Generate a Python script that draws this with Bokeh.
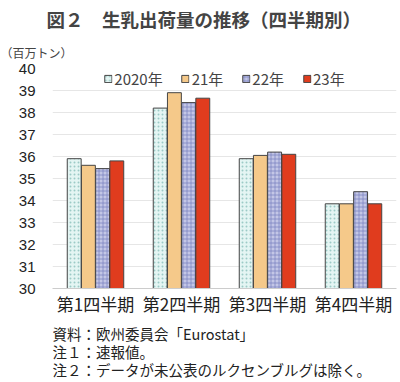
from bokeh.plotting import figure
from bokeh.layouts import column
from bokeh.models import ColumnDataSource, Title, Legend, LegendItem, FactorRange, SingleIntervalTicker
from bokeh.core.properties import value
from bokeh.transform import dodge
from bokeh.embed import file_html
from bokeh.resources import INLINE

quarters = ["第1四半期", "第2四半期", "第3四半期", "第4四半期"]
series_names = ["2020年", "21年", "22年", "23年"]
v2020 = [35.9, 38.2, 35.9, 33.85]
v2021 = [35.6, 38.9, 36.05, 33.85]
v2022 = [35.45, 38.45, 36.2, 34.4]
v2023 = [35.8, 38.65, 36.1, 33.85]
notes = ["資料：欧州委員会「Eurostat」", "注１：速報値。", "注２：データが未公表のルクセンブルグは除く。"]

FONT = "Noto Sans CJK JP"
W, BL, BR = 400, 52, 4

src = ColumnDataSource(dict(q=quarters, a=v2020, b=v2021, c=v2022, d=v2023))

p = figure(width=W, height=320, x_range=FactorRange(*quarters), y_range=(30, 40),
           output_backend="svg", toolbar_location=None,
           min_border_left=BL, min_border_right=BR, min_border_top=0, min_border_bottom=32)
p.outline_line_color = None
p.background_fill_color = "white"

bw = 0.165
styles = [
    dict(col="a", fill="#e4f5f3", hatch="dot", hcol="#9ccac6", off=-1.5),
    dict(col="b", fill="#f5c98a", hatch=None, hcol=None, off=-0.5),
    dict(col="c", fill="#c3c6e6", hatch="cross", hcol="#7d84c2", off=0.5),
    dict(col="d", fill="#e03c1e", hatch=None, hcol=None, off=1.5),
]
renderers = []
for s in styles:
    kw = dict(x=dodge("q", s["off"] * bw, range=p.x_range), top=s["col"], bottom=30,
              width=bw * 0.98, source=src, fill_color=s["fill"],
              line_color="#444444", line_width=1)
    if s["hatch"]:
        kw.update(hatch_pattern=s["hatch"], hatch_color=s["hcol"], hatch_scale=4, hatch_weight=0.8)
    renderers.append(p.vbar(**kw))

legend = Legend(items=[LegendItem(label=n, renderers=[r]) for n, r in zip(series_names, renderers)],
                orientation="horizontal", location="top_center",
                border_line_color=None, background_fill_alpha=0,
                label_text_font=FONT, label_text_font_size="15px", label_height=14,
                glyph_width=9, glyph_height=9, label_standoff=2, spacing=18,
                padding=0, margin=0)
p.add_layout(legend)

p.yaxis.ticker = SingleIntervalTicker(interval=1)
p.yaxis.major_label_text_font = "Liberation Sans"
p.yaxis.major_label_text_font_size = "15px"
p.yaxis.major_label_text_color = "#222222"
p.yaxis.axis_line_color = None
p.yaxis.major_tick_line_color = None
p.yaxis.minor_tick_line_color = None
p.yaxis.major_tick_out = 0
p.yaxis.major_tick_in = 0
p.yaxis.major_label_standoff = 13

p.xaxis.major_label_text_font = FONT
p.xaxis.major_label_text_font_size = "17px"
p.xaxis.major_label_text_color = "#222222"
p.xaxis.axis_line_color = "#cccccc"
p.xaxis.major_tick_line_color = None
p.xaxis.minor_tick_line_color = None
p.xaxis.major_tick_out = 0
p.xaxis.major_tick_in = 0
p.xaxis.major_label_standoff = 2
p.xgrid.grid_line_color = None
p.ygrid.grid_line_color = "#e6e6e6"

# titles above (added in order: closest to plot first)
p.add_layout(Title(text="（百万トン）", text_font=FONT, text_font_size="12px",
                   text_font_style="normal", align="left", offset=-52, standoff=15), "above")
p.add_layout(Title(text="図２　生乳出荷量の推移（四半期別）", text_font=FONT, text_font_size="18.5px",
                   text_font_style="bold", align="left", offset=-6, standoff=6), "above")

# notes panel (its frame aligns with the main frame in the column)
NH = 60
FW = W - BL - BR
n = figure(width=W, height=NH, x_range=(0, FW), y_range=(0, NH),
           output_backend="svg", toolbar_location=None,
           x_axis_type=None, y_axis_type=None,
           min_border_left=BL, min_border_right=BR, min_border_top=0, min_border_bottom=0)
n.outline_line_color = None
n.grid.grid_line_color = None
nsrc = ColumnDataSource(dict(t=notes, x=[0, 0, 0], y=[NH - 13, NH - 31, NH - 49]))
n.text(x="x", y="y", text="t", source=nsrc, text_font=value(FONT), text_font_size="14.5px",
       text_baseline="middle", text_align="left", text_color="#222222")

layout = column(p, n, spacing=0)
open("out.html", "w").write(file_html(layout, INLINE))
